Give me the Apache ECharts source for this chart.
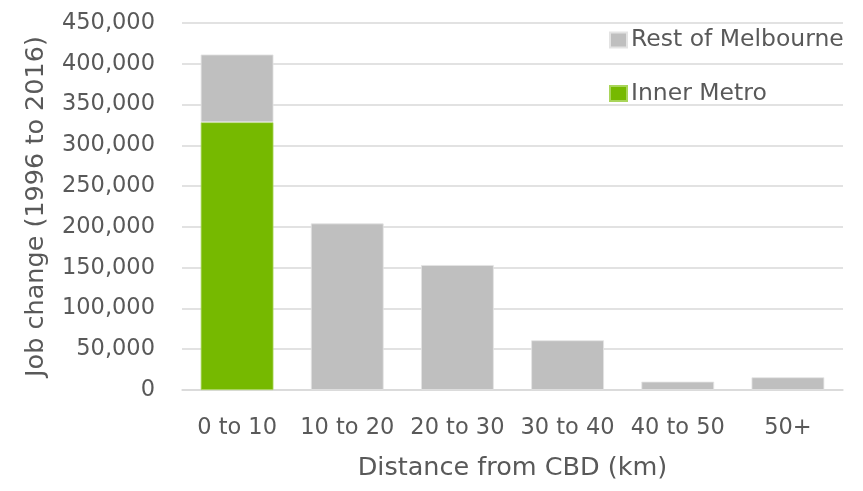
<!DOCTYPE html>
<html>
<head>
<meta charset="utf-8">
<script src="https://cdn.jsdelivr.net/npm/echarts@6/dist/echarts.min.js"></script>
<style>
  html, body { margin: 0; padding: 0; background: #fff; }
  #chart { width: 863px; height: 491px; }
</style>
</head>
<body>
<div id="chart"></div>
<script>
// Job change between 1996 and 2016 by distance band from the CBD
const categories = ['0 to 10', '10 to 20', '20 to 30', '30 to 40', '40 to 50', '50+'];
const innerMetro = [328300, '-', '-', '-', '-', '-'];
const restOfMelbourne = [83000, 204200, 153200, 60900, 10200, 15500];
const yTicks = { min: 0, max: 450000, interval: 50000 };

const FONT = '"DejaVu Sans", sans-serif';
const TEXT = '#595959';
const TICK_SIZE = 22.5;
const TITLE_SIZE = 25.5;
const LEGEND_SIZE = 23.5;

const chart = echarts.init(document.getElementById('chart'), null, { renderer: 'canvas' });
chart.setOption({
  animation: false,
  backgroundColor: '#ffffff',
  textStyle: { fontFamily: FONT, color: TEXT },
  grid: { left: 182, right: 20, top: 23, bottom: 101, containLabel: false },
  legend: {
    orient: 'vertical',
    left: 604,
    top: 23,
    itemWidth: 17,
    itemHeight: 15,
    itemGap: 29.5,
    icon: 'rect',
    data: ['Rest of Melbourne', 'Inner Metro'],
    textStyle: { fontFamily: FONT, color: TEXT, fontSize: LEGEND_SIZE, padding: [0, 0, 0, -1] }
  },
  xAxis: {
    type: 'category',
    data: categories,
    name: 'Distance from CBD (km)',
    nameLocation: 'middle',
    nameGap: 65,
    nameTextStyle: { fontFamily: FONT, color: TEXT, fontSize: TITLE_SIZE },
    axisLine: { lineStyle: { color: '#d9d9d9', width: 1.5 } },
    axisTick: { show: false },
    axisLabel: { color: TEXT, fontSize: TICK_SIZE, margin: 27, fontFamily: FONT, interval: 0, hideOverlap: false }
  },
  yAxis: {
    type: 'value',
    min: yTicks.min,
    max: yTicks.max,
    interval: yTicks.interval,
    name: 'Job change (1996 to 2016)',
    nameLocation: 'middle',
    nameGap: 133,
    nameTextStyle: { fontFamily: FONT, color: TEXT, fontSize: TITLE_SIZE },
    axisLine: { show: false },
    axisTick: { show: false },
    splitLine: { lineStyle: { color: '#d9d9d9', width: 1.5 } },
    axisLabel: {
      color: TEXT, fontSize: TICK_SIZE, margin: 27, fontFamily: FONT,
      formatter: v => v.toLocaleString('en-US')
    }
  },
  series: [
    {
      name: 'Inner Metro',
      type: 'bar',
      stack: 'jobs',
      data: innerMetro,
      barWidth: '66%',
      itemStyle: { color: '#76b900', borderColor: '#a9d55a', borderWidth: 0.8 }
    },
    {
      name: 'Rest of Melbourne',
      type: 'bar',
      stack: 'jobs',
      data: restOfMelbourne,
      barWidth: '66%',
      itemStyle: { color: '#bfbfbf', borderColor: '#e3e3e3', borderWidth: 0.8 }
    }
  ]
});
</script>
</body>
</html>
